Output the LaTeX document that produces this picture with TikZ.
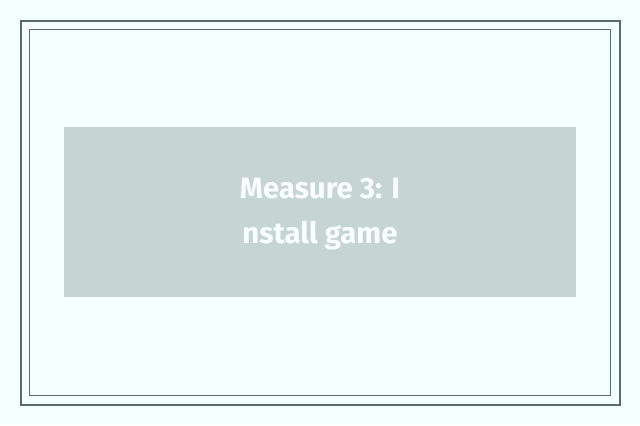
\documentclass[tikz,border=0pt]{standalone}
\usepackage{fontspec}
\setmainfont{Fira Sans}
\definecolor{bgc}{HTML}{F4FFFF}
\definecolor{framec}{HTML}{5B6B6A}
\definecolor{boxc}{HTML}{C6D4D4}
\definecolor{txtc}{HTML}{F8FFFF}
\begin{document}
\begin{tikzpicture}[x=1bp,y=1bp,
  outerframe/.style={draw=framec,line width=2bp},
  innerframe/.style={draw=framec,line width=1bp},
  labelbox/.style={fill=boxc,draw=none,minimum width=512bp,minimum height=170bp,inner sep=0pt},
  labeltext/.style={text=txtc,font=\fontsize{29.5}{44.4}\selectfont\bfseries,align=center,inner sep=0pt}]
\fill[bgc] (0,0) rectangle (640,425);
\useasboundingbox (0,0) rectangle (640,425);
\draw[outerframe] (21,20) rectangle (620,404);
\draw[innerframe] (29.5,29.5) rectangle (610.5,395.5);
\node[labelbox] (box) at (320,213) {};
\node[labeltext] (label) at (320,211) {Measure 3: I\\nstall game};
\end{tikzpicture}
\end{document}
